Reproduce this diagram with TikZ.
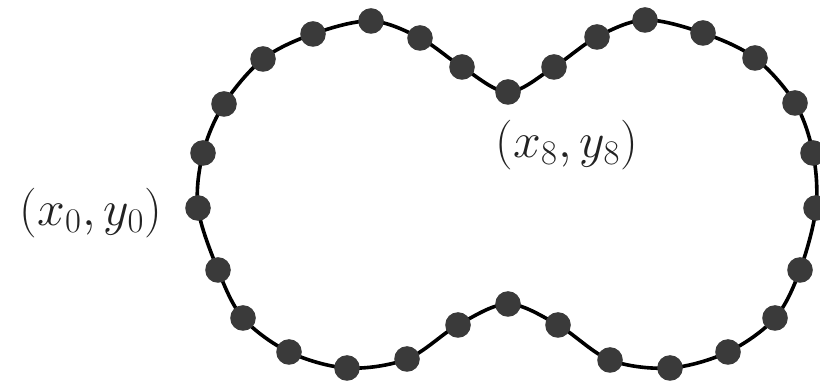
\documentclass[tikz,border=0pt]{standalone}
\usepackage{xcolor}
\definecolor{dotgray}{HTML}{3A3A3A}
\definecolor{txtgray}{HTML}{222222}
\begin{document}
\begin{tikzpicture}[x=0.5pt,y=-0.5pt,
  curveline/.style={line width=1.8pt, black},
  pt/.style={circle, fill=dotgray, inner sep=0pt, minimum size=12.8pt},
  lbl/.style={font=\fontsize{25}{30}\selectfont, text=txtgray, inner sep=0pt}]
\useasboundingbox (0,0) rectangle (820,384);
\coordinate (p0) at (198,208);
\coordinate (p1) at (203,153);
\coordinate (p2) at (224,104);
\coordinate (p3) at (263,59);
\coordinate (p4) at (313,34);
\coordinate (p5) at (371,21);
\coordinate (p6) at (420,38);
\coordinate (p7) at (462,67);
\coordinate (p8) at (508,92);
\coordinate (p9) at (554,67);
\coordinate (p10) at (597,37);
\coordinate (p11) at (645,20);
\coordinate (p12) at (703,33);
\coordinate (p13) at (755,58);
\coordinate (p14) at (795,103);
\coordinate (p15) at (813,153);
\coordinate (p16) at (816,208);
\coordinate (p17) at (800,270);
\coordinate (p18) at (775,318);
\coordinate (p19) at (728,352);
\coordinate (p20) at (670,368);
\coordinate (p21) at (610,360);
\coordinate (p22) at (558,325);
\coordinate (p23) at (508,304);
\coordinate (p24) at (458,325);
\coordinate (p25) at (407,359);
\coordinate (p26) at (347,368);
\coordinate (p27) at (289,352);
\coordinate (p28) at (243,318);
\coordinate (p29) at (218,270);
\draw[curveline] plot[smooth cycle, tension=0.55] coordinates {
  (p0) (p1) (p2) (p3) (p4) (p5) (p6) (p7) (p8) (p9)
  (p10) (p11) (p12) (p13) (p14) (p15) (p16) (p17) (p18) (p19)
  (p20) (p21) (p22) (p23) (p24) (p25) (p26) (p27) (p28) (p29)};
\foreach \i in {0,...,29} \node[pt] (d\i) at (p\i) {};
\node[lbl] (l0) at (91,213) {$(x_0,y_0)$};
\node[lbl] (l8) at (567,145) {$(x_8,y_8)$};
\end{tikzpicture}
\end{document}
